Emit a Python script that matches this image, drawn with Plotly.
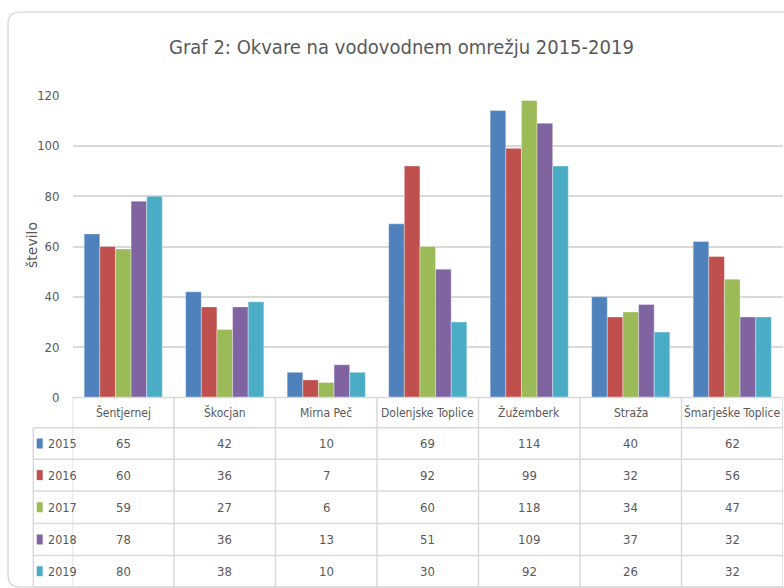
import plotly.graph_objects as go

# ---- data ----
categories = ["Šentjernej", "Škocjan", "Mirna Peč", "Dolenjske Toplice",
              "Žužemberk", "Straža", "Šmarješke Toplice"]
years = ["2015", "2016", "2017", "2018", "2019"]
v2015 = [65, 42, 10, 69, 114, 40, 62]
v2016 = [60, 36, 7, 92, 99, 32, 56]
v2017 = [59, 27, 6, 60, 118, 34, 47]
v2018 = [78, 36, 13, 51, 109, 37, 32]
v2019 = [80, 38, 10, 30, 92, 26, 32]
series = [v2015, v2016, v2017, v2018, v2019]
y_ticks = [0, 20, 40, 60, 80, 100, 120]

title_text = "Graf 2: Okvare na vodovodnem omrežju 2015-2019"
y_title = "število"

# ---- styling ----
colors = ["#4F81BD", "#C0504D", "#9BBB59", "#8064A2", "#4BACC6"]
W, H = 784, 588
TXT = "#595959"
GRID = "#D9D9D9"
FONT = "DejaVu Sans Condensed, Liberation Sans Narrow, sans-serif"

X0, X1 = 72.5, 783.0         # plot area left/right (px)
YB, YT = 397.5, 95.5          # y=0 and y=120 (px from top)
LEG_L = 33.3                  # legend column left edge
ROW_EDGES = [397.5, 427.7, 459.3, 491.0, 523.5, 555.5, 587.0]


def px(x):
    return x / W


def py(y):
    return 1 - y / H


fig = go.Figure()
for name, vals, c in zip(years, series, colors):
    fig.add_trace(go.Bar(x=categories, y=vals, name=name, marker_color=c,
                         marker_line=dict(width=0.6, color="rgba(255,255,255,0.6)"),
                         showlegend=False))

shapes = []
annotations = []


def label(x, y, text, size, xref="paper", xanchor="center", angle=0, family=FONT):
    annotations.append(dict(x=x, y=y, xref=xref, yref="paper", text=text,
                            showarrow=False, xanchor=xanchor, yanchor="middle",
                            textangle=angle, font=dict(family=family, size=size, color=TXT)))


# card border with rounded left corners
r = 12
x_l, y_t, y_b = 8, 12, 587
path = (f"M {px(W + 20)},{py(y_t)} L {px(x_l + r)},{py(y_t)} "
        f"Q {px(x_l)},{py(y_t)} {px(x_l)},{py(y_t + r)} "
        f"L {px(x_l)},{py(y_b - r)} Q {px(x_l)},{py(y_b)} {px(x_l + r)},{py(y_b)} "
        f"L {px(W + 20)},{py(y_b)}")
shapes.append(dict(type="path", path=path, xref="paper", yref="paper",
                   line=dict(color="#D0D0D0", width=1.2), layer="below"))

# table horizontal lines
for i, ye in enumerate(ROW_EDGES):
    x_start = X0 if i == 0 else LEG_L
    shapes.append(dict(type="line", xref="paper", yref="paper",
                       x0=px(x_start), x1=px(X1), y0=py(ye), y1=py(ye),
                       line=dict(color=GRID, width=1.5)))
# table vertical lines: category boundaries via x axis
for k in range(len(categories) + 1):
    shapes.append(dict(type="line", xref="x", yref="paper",
                       x0=k - 0.5, x1=k - 0.5, y0=py(ROW_EDGES[0]), y1=py(ROW_EDGES[-1]),
                       line=dict(color=GRID, width=1.5)))
# legend column left line
shapes.append(dict(type="line", xref="paper", yref="paper",
                   x0=px(LEG_L), x1=px(LEG_L), y0=py(ROW_EDGES[1]), y1=py(ROW_EDGES[-1]),
                   line=dict(color=GRID, width=1.5)))

# header: category names
hdr_y = (ROW_EDGES[0] + ROW_EDGES[1]) / 2
for k, cat in enumerate(categories):
    label(k, py(hdr_y), cat, 12, xref="x")

# rows: legend keys + values
for j, (name, vals, c) in enumerate(zip(years, series, colors)):
    yc = (ROW_EDGES[j + 1] + ROW_EDGES[j + 2]) / 2
    shapes.append(dict(type="rect", xref="paper", yref="paper",
                       x0=px(36.7), x1=px(42.7), y0=py(yc - 5), y1=py(yc + 5),
                       fillcolor=c, line=dict(width=0)))
    label(px(45.5), py(yc), name, 12.5, xanchor="left")
    for k, v in enumerate(vals):
        label(k, py(yc), str(v), 13, xref="x")

# title
label(px(401), py(47), title_text, 20)
# y title
label(px(32), py(245), y_title, 14, angle=-90, family="DejaVu Sans, sans-serif")

fig.update_layout(
    width=W, height=H, autosize=False,
    margin=dict(l=0, r=0, t=0, b=0, pad=0),
    paper_bgcolor="white", plot_bgcolor="white",
    barmode="group", bargap=0.23, bargroupgap=0,
    shapes=shapes, annotations=annotations,
    xaxis=dict(domain=[px(X0), px(X1)], showticklabels=False, showgrid=False,
               zeroline=False, showline=False, fixedrange=True, automargin=False,
               range=[-0.5, len(categories) - 0.5]),
    yaxis=dict(domain=[py(YB), py(YT)], range=[0, 120], tickvals=y_ticks,
               showgrid=True, gridcolor=GRID, gridwidth=1.5, zeroline=False,
               showline=False, ticklabelstandoff=12, automargin=False,
               tickfont=dict(family=FONT, size=13, color=TXT), fixedrange=True),
)

fig.write_html("out.html", config={"displayModeBar": False},
               post_script="document.body.style.margin='0';document.body.style.overflow='hidden';")
